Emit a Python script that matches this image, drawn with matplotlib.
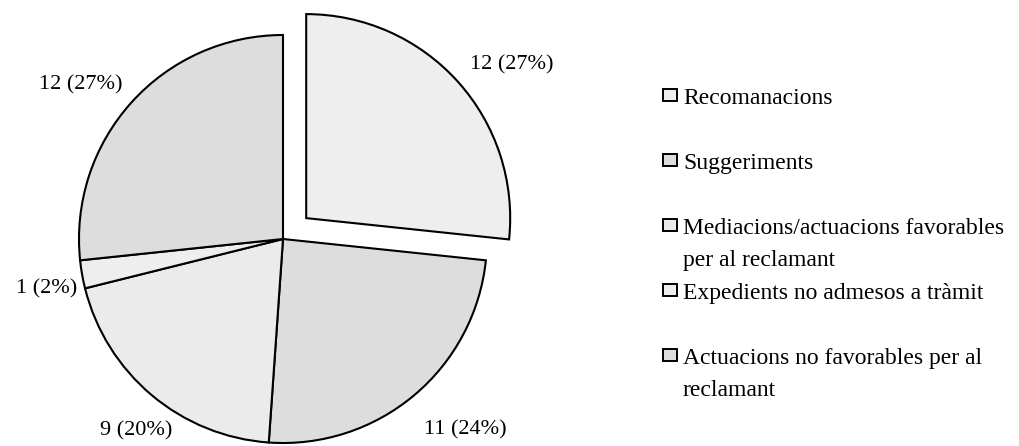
import matplotlib
matplotlib.use("Agg")
import matplotlib.pyplot as plt
from matplotlib.patches import Rectangle
import numpy as np

categories = ["Recomanacions", "Suggeriments",
              "Mediacions/actuacions favorables\nper al reclamant",
              "Expedients no admesos a tràmit",
              "Actuacions no favorables per al\nreclamant"]
values = [12, 11, 9, 1, 12]
colors = ["#eeeeee", "#dddddd", "#ebebeb", "#eeeeee", "#dddddd"]
explode_frac = [0.153, 0, 0, 0, 0]

plt.rcParams['font.family'] = ['Liberation Serif', 'DejaVu Serif']

W, H = 1020, 446
fig = plt.figure(figsize=(W / 100, H / 100), dpi=100)
ax = fig.add_axes([0, 0, 1, 1])

R = 204
cx, cy = 283, H - 239
wedges, _ = ax.pie(values, colors=colors, explode=[e * R for e in explode_frac],
                   startangle=90, counterclock=False, radius=R, center=(cx, cy),
                   wedgeprops=dict(edgecolor="black", linewidth=1.5))
ax.set_xlim(0, W)
ax.set_ylim(0, H)
ax.set_aspect("equal")
ax.axis("off")

total = sum(values)
label_offsets = [(54, 17), (51, -35), (-16, -36), (-35, -14), (-51, 18)]
for w, v, off in zip(wedges, values, label_offsets):
    ang = np.deg2rad((w.theta1 + w.theta2) / 2)
    px = w.center[0] + w.r * np.cos(ang)
    py = w.center[1] + w.r * np.sin(ang)
    ax.annotate(f"{v} ({round(100 * v / total)}%)", xy=(px, py), xytext=off,
                textcoords="offset pixels", ha="center", va="center",
                fontsize=16)

# legend
lx, row0, step = 663, 95, 65
for i, (lab, col) in enumerate(zip(categories, colors)):
    yc = H - (row0 + step * i)
    ax.add_patch(Rectangle((lx, yc - 6), 14, 12, facecolor=col,
                           edgecolor="black", linewidth=1.4))
    ax.text(lx + 20, yc + 7, lab, ha="left", va="top", fontsize=17,
            linespacing=1.7)

fig.savefig("out.png", dpi=100)
